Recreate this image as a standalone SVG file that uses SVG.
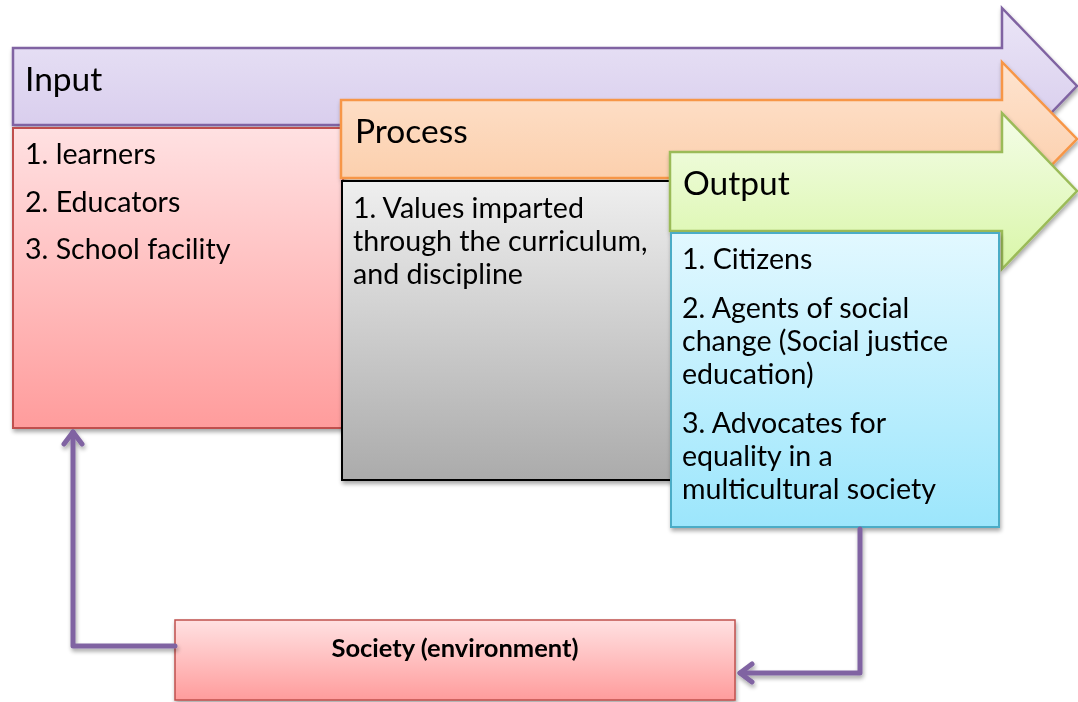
<svg xmlns="http://www.w3.org/2000/svg" width="1078" height="702" viewBox="0 0 1078 702">
  <style>
    .head { font-family: Lato, "Liberation Sans", sans-serif; font-size: 33.5px; fill: #000; }
    .body { font-family: Lato, "Liberation Sans", sans-serif; font-size: 28.6px; fill: #000; }
    .soc { font-family: Lato, "Liberation Sans", sans-serif; font-size: 25.5px; font-weight: bold; fill: #000; }
    .conn { fill: none; stroke: #8064a2; stroke-width: 5; stroke-linecap: round; stroke-linejoin: round; }
  </style>
  <defs>
    <linearGradient id="gPurple" x1="0" y1="0" x2="0" y2="1">
      <stop offset="0" stop-color="#ebe6f7"/>
      <stop offset="1" stop-color="#d3c6ea"/>
    </linearGradient>
    <linearGradient id="gOrange" x1="0" y1="0" x2="0" y2="1">
      <stop offset="0" stop-color="#fee4d0"/>
      <stop offset="1" stop-color="#fbc9a2"/>
    </linearGradient>
    <linearGradient id="gGreen" x1="0" y1="0" x2="0" y2="1">
      <stop offset="0" stop-color="#f4fde8"/>
      <stop offset="1" stop-color="#d9f6a8"/>
    </linearGradient>
    <linearGradient id="gRed" x1="0" y1="0" x2="0" y2="1">
      <stop offset="0" stop-color="#ffe1e2"/>
      <stop offset="1" stop-color="#ff9c9c"/>
    </linearGradient>
    <linearGradient id="gGray" x1="0" y1="0" x2="0" y2="1">
      <stop offset="0" stop-color="#efefef"/>
      <stop offset="1" stop-color="#ababab"/>
    </linearGradient>
    <linearGradient id="gCyan" x1="0" y1="0" x2="0" y2="1">
      <stop offset="0" stop-color="#e2f8ff"/>
      <stop offset="1" stop-color="#9ce6fc"/>
    </linearGradient>
    <filter id="shadow" x="-10%" y="-10%" width="120%" height="130%">
      <feGaussianBlur in="SourceAlpha" stdDeviation="2"/>
      <feOffset dx="1" dy="3" result="b"/>
      <feComponentTransfer><feFuncA type="linear" slope="0.35"/></feComponentTransfer>
      <feMerge><feMergeNode/><feMergeNode in="SourceGraphic"/></feMerge>
    </filter>
  </defs>

  <!-- Input stage -->
  <g id="input-arrow" filter="url(#shadow)">
    <path d="M13,48 H1002 V8 L1077,86 L1002,164 V125 H13 Z" fill="url(#gPurple)" stroke="#8064a2" stroke-width="2.5"/>
    <text class="head" x="25" y="91">Input</text>
  </g>
  <g id="input-box" filter="url(#shadow)">
    <rect x="13" y="128" width="330" height="300" fill="url(#gRed)" stroke="#c0504d" stroke-width="2"/>
    <text class="body" x="25" y="164">1. learners</text>
    <text class="body" x="25" y="212">2. Educators</text>
    <text class="body" x="25" y="259">3. School facility</text>
  </g>

  <!-- Process stage -->
  <g id="process-arrow" filter="url(#shadow)">
    <path d="M341,100 H1002 V62 L1077,139 L1002,216 V178 H341 Z" fill="url(#gOrange)" stroke="#f79646" stroke-width="2.5"/>
    <text class="head" x="355" y="143">Process</text>
  </g>
  <g id="process-box" filter="url(#shadow)">
    <rect x="342" y="181" width="335" height="299" fill="url(#gGray)" stroke="#000" stroke-width="2"/>
    <text class="body" x="353" y="218">1. Values imparted</text>
    <text class="body" x="353" y="251">through the curriculum,</text>
    <text class="body" x="353" y="284">and discipline</text>
  </g>

  <!-- Output stage -->
  <g id="output-arrow" filter="url(#shadow)">
    <path d="M670,152 H1002 V113 L1077,191 L1002,269 V231 H670 Z" fill="url(#gGreen)" stroke="#9bbb59" stroke-width="2.5"/>
    <text class="head" x="683" y="195">Output</text>
  </g>
  <g id="output-box" filter="url(#shadow)">
    <rect x="671" y="233" width="328" height="294" fill="url(#gCyan)" stroke="#4bacc6" stroke-width="2"/>
    <text class="body" x="682" y="269">1. Citizens</text>
    <text class="body" x="682" y="318">2. Agents of social</text>
    <text class="body" x="682" y="351">change (Social justice</text>
    <text class="body" x="682" y="384">education)</text>
    <text class="body" x="682" y="433">3. Advocates for</text>
    <text class="body" x="682" y="466">equality in a</text>
    <text class="body" x="682" y="499">multicultural society</text>
  </g>

  <!-- Environment -->
  <g id="society" filter="url(#shadow)">
    <rect x="175" y="620" width="560" height="80" fill="url(#gRed)" stroke="#c0504d" stroke-width="1.5"/>
    <text class="soc" x="455" y="657" text-anchor="middle">Society (environment)</text>
  </g>

  <!-- Feedback loop -->
  <g id="connectors" filter="url(#shadow)">
    <path class="conn" d="M860,529 V673 H740"/>
    <path class="conn" d="M752,664 L740,673 L752,682"/>
    <path class="conn" d="M175,646 H73 V432"/>
    <path class="conn" d="M64,444 L73,432 L82,444"/>
  </g>
</svg>
